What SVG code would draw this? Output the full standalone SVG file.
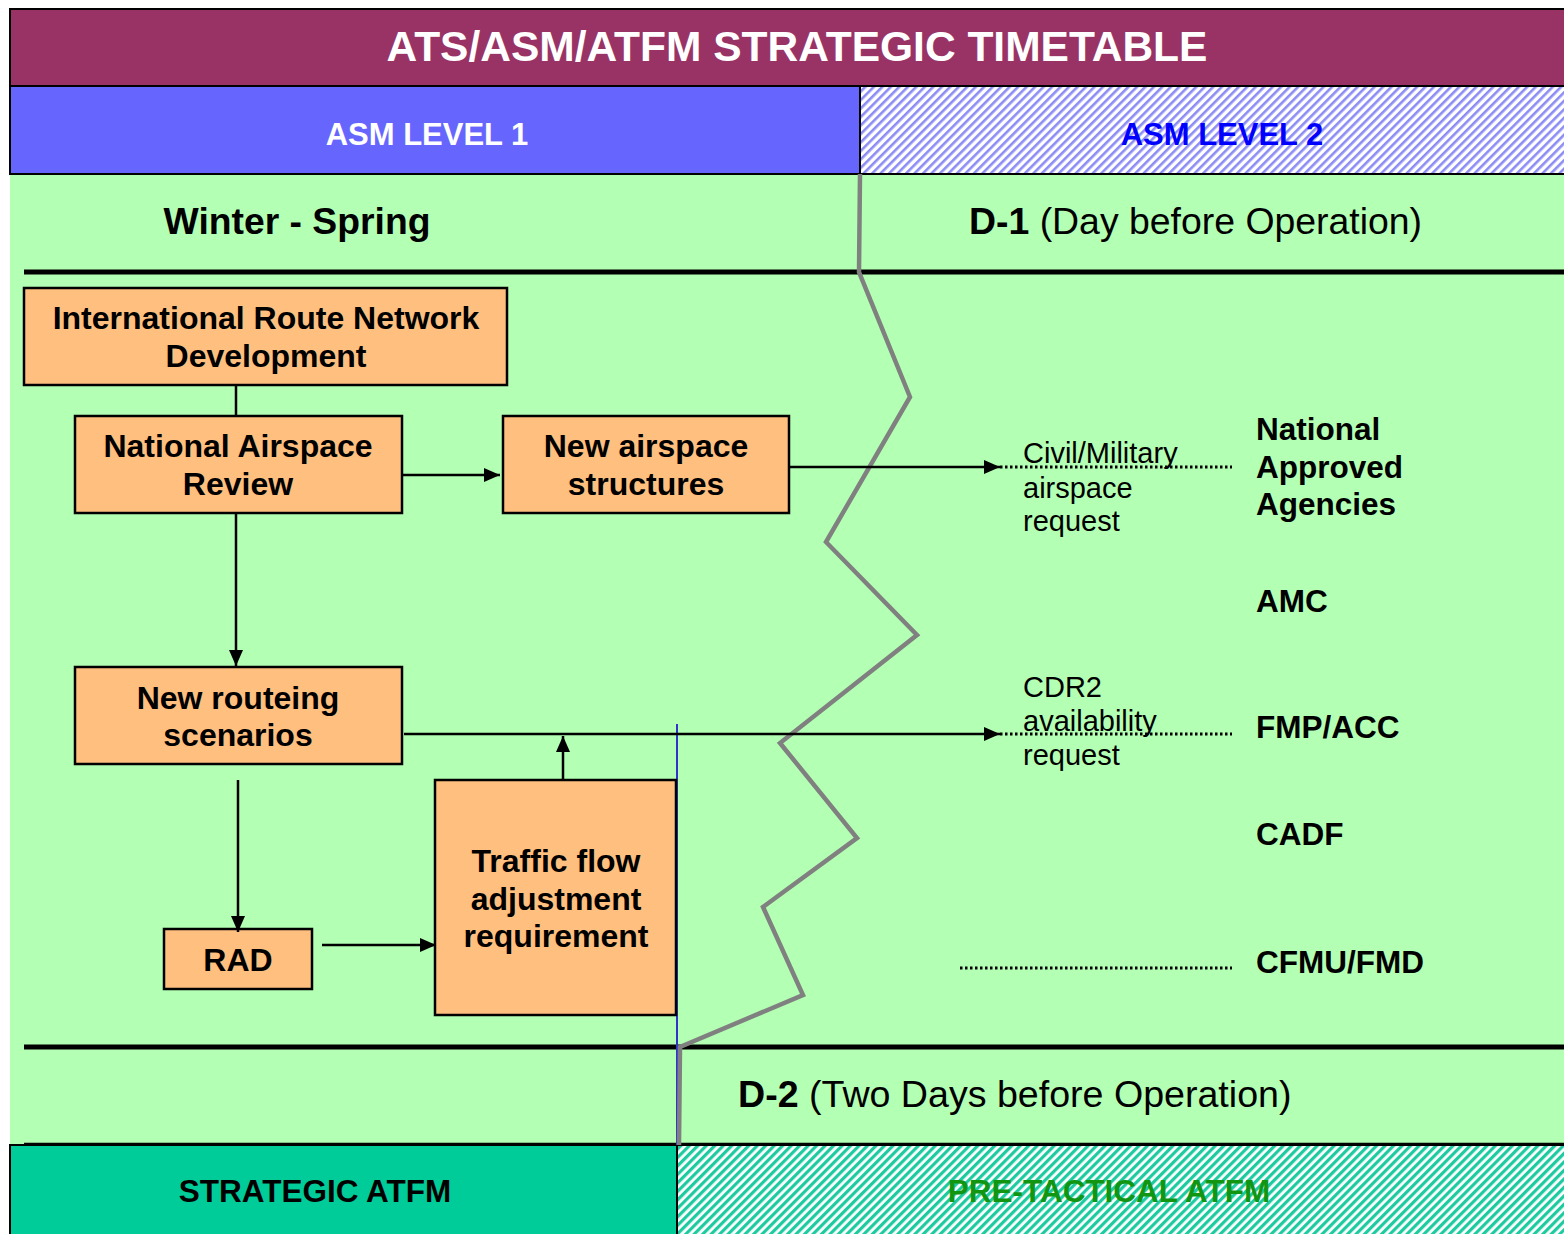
<svg xmlns="http://www.w3.org/2000/svg" width="1564" height="1234" viewBox="0 0 1564 1234">
<style>
.box{fill:#FFBF7F;stroke:#000;stroke-width:2.5}
.bt{font-family:"Liberation Sans",Arial,sans-serif;font-weight:bold;font-size:32px;fill:#000;text-anchor:middle}
.lbl{font-family:"Liberation Sans",Arial,sans-serif;font-weight:bold;font-size:31.5px;fill:#000}
.sm{font-family:"Liberation Sans",Arial,sans-serif;font-size:29px;fill:#000}
.hdr{font-family:"Liberation Sans",Arial,sans-serif;font-weight:bold;text-anchor:middle}
.con{stroke:#000;stroke-width:2.5;fill:none}
.dot{stroke:#000;stroke-width:3;stroke-dasharray:2.5 2.5;fill:none}
.thick{stroke:#000;stroke-width:5}
</style>
<defs>
<pattern id="hb" width="6" height="6" patternUnits="userSpaceOnUse" patternTransform="rotate(-45)">
<rect width="6" height="6" fill="#fff"/>
<rect width="6" height="2.6" fill="#8C8CF5"/>
</pattern>
<pattern id="ht" width="6" height="6" patternUnits="userSpaceOnUse" patternTransform="rotate(-45)">
<rect width="6" height="6" fill="#fff"/>
<rect width="6" height="3.2" fill="#1ECBA0"/>
</pattern>
<marker id="ah" markerUnits="userSpaceOnUse" markerWidth="16" markerHeight="14" refX="16" refY="7" orient="auto">
<path d="M0,0 L16,7 L0,14 z" fill="#000"/>
</marker>
</defs>
<rect x="0" y="0" width="1564" height="1234" fill="#fff"/>
<rect x="10" y="174" width="1554" height="971" fill="#B3FFB3"/>
<g id="header">
<rect x="10" y="9" width="1560" height="77" fill="#993366" stroke="#000" stroke-width="2"/>
<text class="hdr" x="797" y="61" font-size="42.5" fill="#fff">ATS/ASM/ATFM STRATEGIC TIMETABLE</text>
</g>
<g id="asm1">
<rect x="10" y="86" width="850" height="88" fill="#6666FF" stroke="#000" stroke-width="2"/>
<text class="hdr" x="427" y="145" font-size="31" fill="#fff">ASM LEVEL 1</text>
</g>
<g id="asm2">
<rect x="860" y="86" width="710" height="88" fill="url(#hb)" stroke="#000" stroke-width="2"/>
<text class="hdr" x="1222" y="145" font-size="31" fill="#0000FF">ASM LEVEL 2</text>
</g>
<g id="bands">
<line class="thick" x1="24" y1="272" x2="1564" y2="272"/>
<line class="thick" x1="24" y1="1047" x2="1564" y2="1047"/>
<line x1="24" y1="1144" x2="1564" y2="1144" stroke="#000" stroke-width="2.5"/>
<text class="hdr" x="297" y="234" font-size="37.3" fill="#000">Winter - Spring</text>
<text x="969" y="234" font-family="Liberation Sans,Arial,sans-serif" font-size="37.4" fill="#000"><tspan font-weight="bold">D-1</tspan> (Day before Operation)</text>
<text x="738" y="1107" font-family="Liberation Sans,Arial,sans-serif" font-size="37.6" fill="#000"><tspan font-weight="bold">D-2</tspan> (Two Days before Operation)</text>
</g>
<g id="satfm">
<rect x="10" y="1145" width="667" height="95" fill="#00CC99" stroke="#000" stroke-width="2"/>
<text class="hdr" x="315" y="1202" font-size="31.5" fill="#000">STRATEGIC ATFM</text>
</g>
<g id="ptatfm">
<rect x="677" y="1145" width="893" height="95" fill="url(#ht)" stroke="#000" stroke-width="2"/>
<text class="hdr" x="1109" y="1202" font-size="31.5" fill="#129612">PRE-TACTICAL ATFM</text>
</g>
<g id="boundary">
<line x1="677" y1="724" x2="677" y2="1145" stroke="#3333CC" stroke-width="2"/>
<polyline points="860,174 859,272 910,397 826,542 917,635 780,743 857,838 763,907 803,995 680,1047 679,1145" fill="none" stroke="#808080" stroke-width="4.5" stroke-linejoin="miter"/>
</g>
<g id="irnd">
<rect class="box" x="24" y="288" width="483" height="97"/>
<text class="bt" x="266" y="329">International Route Network</text>
<text class="bt" x="266" y="367">Development</text>
</g>
<g id="nar">
<rect class="box" x="75" y="416" width="327" height="97"/>
<text class="bt" x="238" y="457">National Airspace</text>
<text class="bt" x="238" y="495">Review</text>
</g>
<g id="nas">
<rect class="box" x="503" y="416" width="286" height="97"/>
<text class="bt" x="646" y="457">New airspace</text>
<text class="bt" x="646" y="495">structures</text>
</g>
<g id="nrs">
<rect class="box" x="75" y="667" width="327" height="97"/>
<text class="bt" x="238" y="709">New routeing</text>
<text class="bt" x="238" y="746">scenarios</text>
</g>
<g id="rad">
<rect class="box" x="164" y="929" width="148" height="60"/>
<text class="bt" x="238" y="971">RAD</text>
</g>
<g id="tfa">
<rect class="box" x="435" y="780" width="241" height="235"/>
<text class="bt" x="556" y="872">Traffic flow</text>
<text class="bt" x="556" y="910">adjustment</text>
<text class="bt" x="556" y="947">requirement</text>
</g>
<g id="agencies">
<text class="lbl" x="1256" y="440">National</text>
<text class="lbl" x="1256" y="478">Approved</text>
<text class="lbl" x="1256" y="515">Agencies</text>
<text class="lbl" x="1256" y="612">AMC</text>
<text class="lbl" x="1256" y="738">FMP/ACC</text>
<text class="lbl" x="1256" y="845">CADF</text>
<text class="lbl" x="1256" y="973">CFMU/FMD</text>
</g>
<g id="requests">
<text class="sm" x="1023" y="463">Civil/Military</text>
<text class="sm" x="1023" y="498">airspace</text>
<text class="sm" x="1023" y="531">request</text>
<text class="sm" x="1023" y="697">CDR2</text>
<text class="sm" x="1023" y="731">availability</text>
<text class="sm" x="1023" y="765">request</text>
</g>
<g id="connectors">
<line class="con" x1="236" y1="385" x2="236" y2="416"/>
<line class="con" x1="402" y1="475" x2="500" y2="475" marker-end="url(#ah)"/>
<line class="con" x1="236" y1="513" x2="236" y2="666" marker-end="url(#ah)"/>
<line class="con" x1="789" y1="467" x2="1000" y2="467" marker-end="url(#ah)"/>
<line class="dot" x1="1000" y1="467" x2="1232" y2="467"/>
<line class="con" x1="404" y1="734" x2="1000" y2="734" marker-end="url(#ah)"/>
<line class="dot" x1="1000" y1="734" x2="1232" y2="734"/>
<line class="con" x1="563" y1="780" x2="563" y2="736" marker-end="url(#ah)"/>
<line class="con" x1="238" y1="780" x2="238" y2="932" marker-end="url(#ah)"/>
<line class="con" x1="322" y1="945" x2="436" y2="945" marker-end="url(#ah)"/>
<line class="dot" x1="960" y1="968" x2="1232" y2="968"/>
</g>
</svg>
